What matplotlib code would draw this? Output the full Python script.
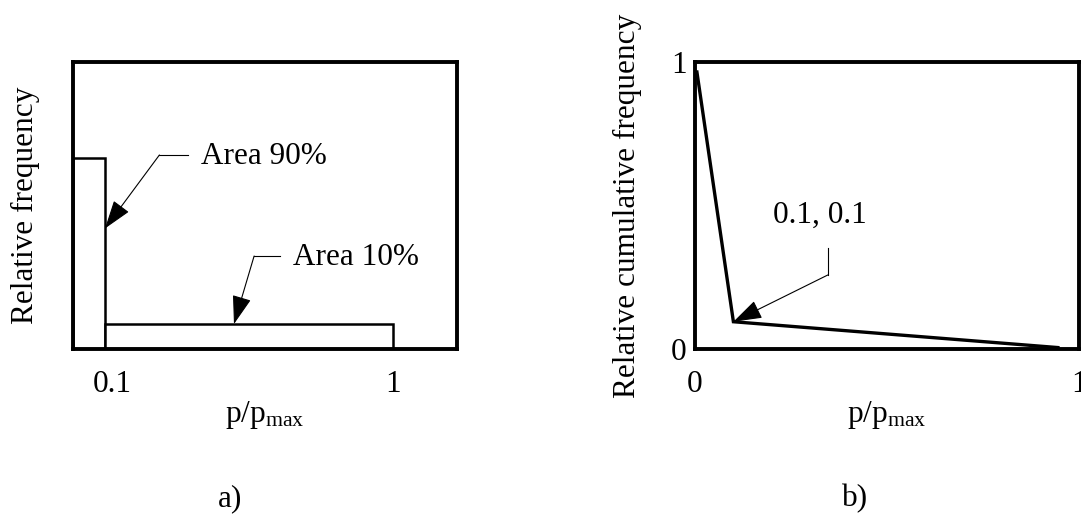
import matplotlib
matplotlib.use("Agg")
import matplotlib.pyplot as plt
import matplotlib.transforms as mtransforms

# ---- data ----
bin_left = [0.0, 0.1]
bin_width = [0.1, 0.9]
rel_freq = [0.665, 0.087]
hist_ticks = [0.1, 1.0]
hist_ticklabels = ["0.1", "1"]

cum_x = [0.005, 0.1, 0.945]
cum_y = [0.965, 0.095, 0.005]
cum_ticks = [0, 1]
cum_ticklabels = ["0", "1"]

plt.rcParams['font.family'] = ['Liberation Serif', 'DejaVu Serif']
plt.rcParams['mathtext.fontset'] = 'custom'
plt.rcParams['mathtext.rm'] = 'Liberation Serif'
plt.rcParams['mathtext.it'] = 'Liberation Serif:italic'
FS = 22.5

W, H = 1081, 515
fig = plt.figure(figsize=(W / 100, H / 100), dpi=100)

def axrect(x0, x1, y0, y1):
    return [x0 / W, 1 - y1 / H, (x1 - x0) / W, (y1 - y0) / H]

ax1 = fig.add_axes(axrect(73, 457, 62, 349))
ax2 = fig.add_axes(axrect(695, 1079, 62, 349))

for ax in (ax1, ax2):
    for s in ax.spines.values():
        s.set_linewidth(2.8)
        s.set_color('black')
        s.set_zorder(5)

arrow_kw = dict(arrowstyle='-|>,head_length=1.8,head_width=0.6', lw=0.8,
                color='black', shrinkA=0, shrinkB=0, mutation_scale=10)

# ---- a) histogram ----
ax1.bar(bin_left, rel_freq, width=bin_width, align='edge', facecolor='white',
        edgecolor='black', linewidth=1.8, zorder=2)
ax1.set_xlim(0, 1.2)
ax1.set_ylim(0, 1)
ax1.set_xticks(hist_ticks)
ax1.set_xticklabels(hist_ticklabels)
ax1.set_yticks([])
ax1.tick_params(axis='x', length=0, pad=15, labelsize=FS)
# small rightward nudge of the "0.1" label, as in the reference
lbl = ax1.get_xticklabels()[0]
lbl.set_transform(lbl.get_transform() +
                  mtransforms.ScaledTranslation(5 / 72, 0, fig.dpi_scale_trans))
ax1.set_ylabel('Relative frequency', fontsize=FS)
ax1.yaxis.set_label_coords(-0.086, 0.5)
ax1.set_xlabel(r'p/p$_{\mathrm{max}}$', fontsize=FS)
ax1.xaxis.set_label_coords(0.5, -0.175)
ax1.text(0.41, -0.52, 'a)', transform=ax1.transAxes, fontsize=FS,
         ha='center', va='center')

ax1.text(0.40, 0.669, 'Area 90%', fontsize=FS, ha='left', va='center')
ax1.plot([0.36, 0.27], [0.676, 0.676], color='black', lw=0.8)
ax1.annotate('', xy=(0.1, 0.42), xytext=(0.27, 0.676), arrowprops=arrow_kw)

ax1.text(0.6875, 0.32, 'Area 10%', fontsize=FS, ha='left', va='center')
ax1.plot([0.647, 0.566], [0.324, 0.324], color='black', lw=0.8)
ax1.annotate('', xy=(0.503, rel_freq[1]), xytext=(0.566, 0.324), arrowprops=arrow_kw)

# ---- b) cumulative ----
ax2.plot(cum_x, cum_y, color='black', lw=2.4, solid_joinstyle='miter')
ax2.set_xlim(0, 1)
ax2.set_ylim(0, 1)
ax2.set_xticks(cum_ticks)
ax2.set_xticklabels(cum_ticklabels)
ax2.set_yticks(cum_ticks)
ax2.set_yticklabels(cum_ticklabels)
ax2.tick_params(axis='x', length=0, pad=15, labelsize=FS)
ax2.tick_params(axis='y', length=0, pad=6, labelsize=FS)
ax2.set_ylabel('Relative cumulative frequency', fontsize=FS)
ax2.yaxis.set_label_coords(-0.138, 0.5)
ax2.set_xlabel(r'p/p$_{\mathrm{max}}$', fontsize=FS)
ax2.xaxis.set_label_coords(0.5, -0.175)
ax2.text(0.417, -0.52, 'b)', transform=ax2.transAxes, fontsize=FS,
         ha='center', va='center')

ax2.text(0.326, 0.467, '0.1, 0.1', fontsize=FS, ha='center', va='center')
ax2.plot([0.346, 0.346], [0.352, 0.258], color='black', lw=0.8)
ax2.annotate('', xy=(cum_x[1], cum_y[1]), xytext=(0.346, 0.258), arrowprops=arrow_kw)

fig.savefig('out.png', dpi=100, facecolor='white')
